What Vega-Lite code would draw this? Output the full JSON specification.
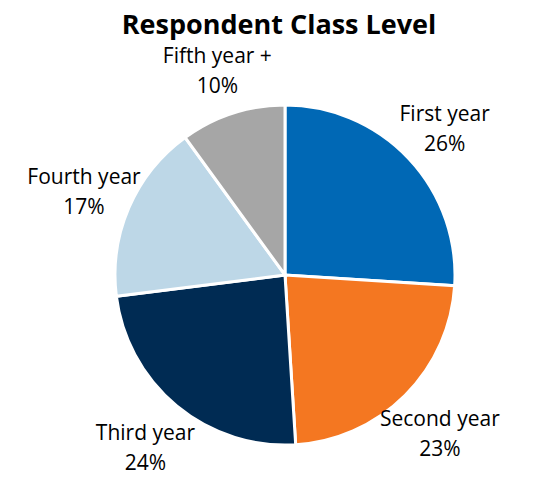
{
  "$schema": "https://vega.github.io/schema/vega-lite/v6.json",
  "autosize": {"type": "none"},
  "width": 498,
  "height": 412,
  "padding": {"left": 36, "top": 69, "right": 0, "bottom": 0},
  "background": "white",
  "title": {
    "text": "Respondent Class Level",
    "font": "Open Sans",
    "fontSize": 27,
    "fontWeight": "bold",
    "color": "#000000",
    "anchor": "middle",
    "frame": "group",
    "dx": -6,
    "offset": 6
  },
  "data": {
    "values": [
      {"rank": 1, "level": "First year", "pct": 26, "label": "First year\n26%"},
      {"rank": 2, "level": "Second year", "pct": 23, "label": "Second year\n23%"},
      {"rank": 3, "level": "Third year", "pct": 24, "label": "Third year\n24%"},
      {"rank": 4, "level": "Fourth year", "pct": 17, "label": "Fourth year\n17%"},
      {"rank": 5, "level": "Fifth year +", "pct": 10, "label": "Fifth year +\n10%"}
    ]
  },
  "encoding": {
    "theta": {"field": "pct", "type": "quantitative", "stack": true},
    "order": {"field": "rank", "type": "quantitative"}
  },
  "layer": [
    {
      "mark": {"type": "arc", "outerRadius": 170, "stroke": "white", "strokeWidth": 3},
      "encoding": {
        "color": {
          "field": "level",
          "type": "nominal",
          "legend": null,
          "sort": null,
          "scale": {
            "domain": ["First year", "Second year", "Third year", "Fourth year", "Fifth year +"],
            "range": ["#0068b5", "#f47721", "#002b53", "#bdd7e7", "#a6a6a6"]
          }
        }
      }
    },
    {
      "mark": {
        "type": "text",
        "radius": 219,
        "dy": -10,
        "font": "Open Sans",
        "fontSize": 21,
        "lineHeight": 30,
        "lineBreak": "\n",
        "align": "center",
        "baseline": "middle",
        "color": "#000000"
      },
      "encoding": {
        "text": {"field": "label", "type": "nominal"}
      }
    }
  ],
  "config": {"view": {"stroke": null}}
}
